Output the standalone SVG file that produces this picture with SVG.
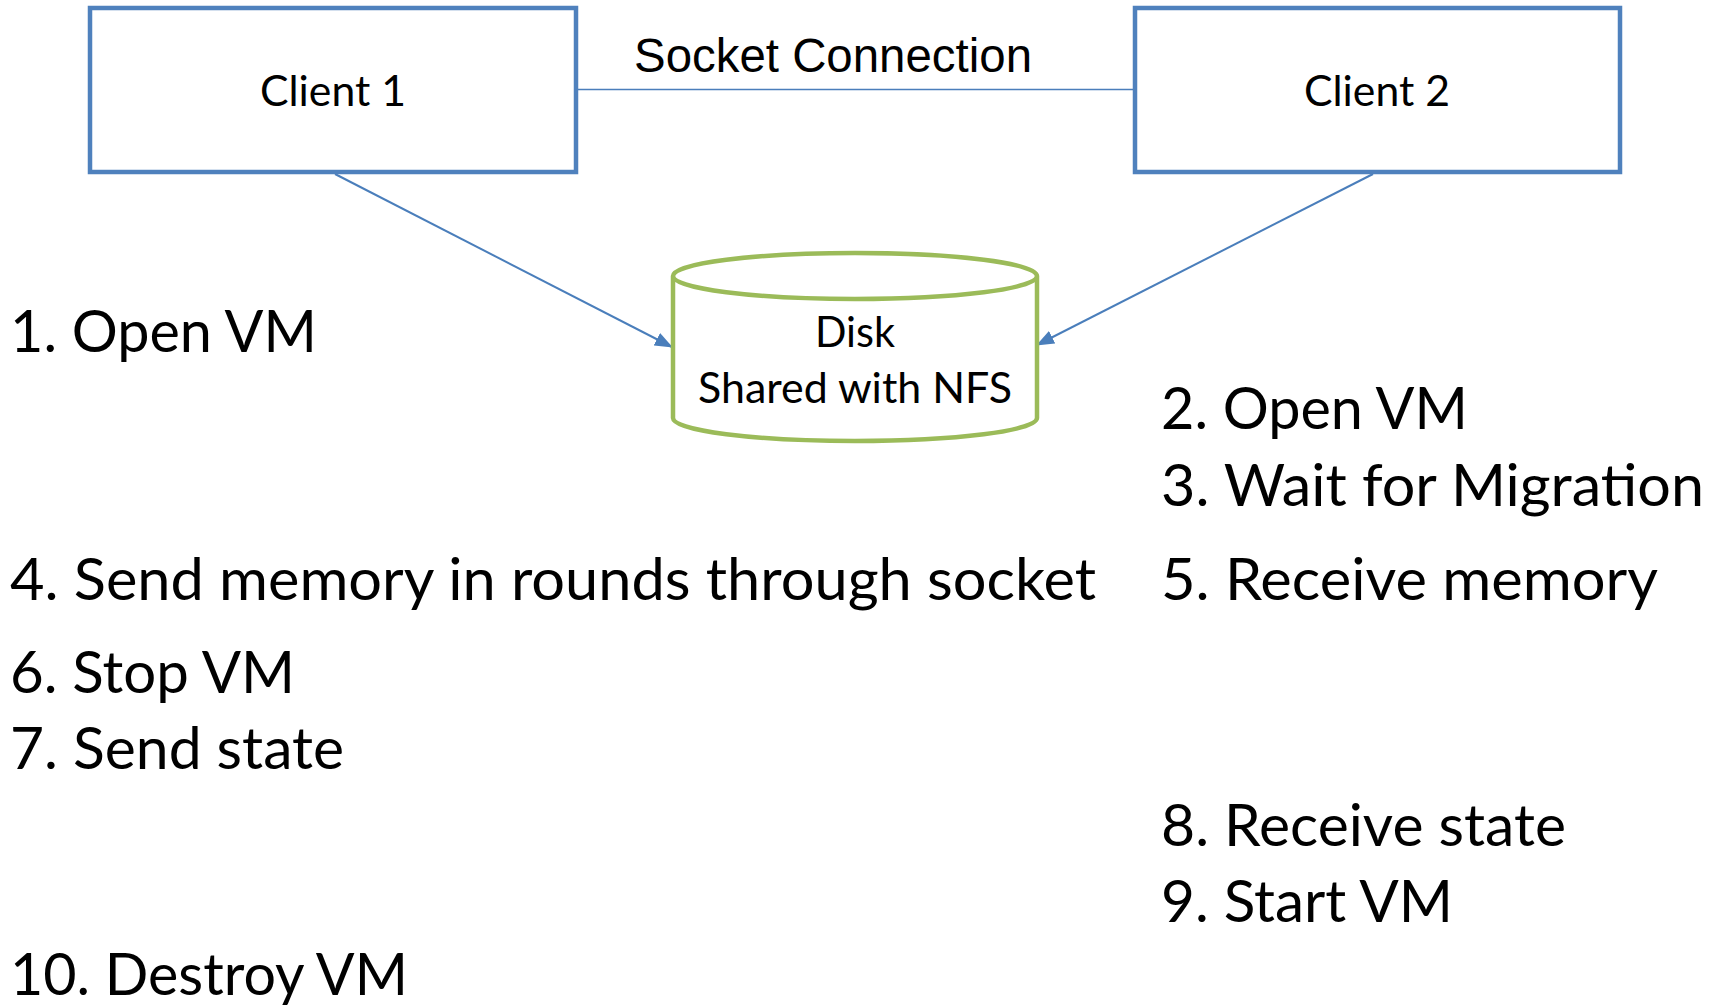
<svg xmlns="http://www.w3.org/2000/svg" width="1719" height="1008" viewBox="0 0 1719 1008">
<style>
.box{fill:#fff;stroke:#4F81BD;stroke-width:4.5}
.cyl{fill:#fff;stroke:#9BBB59;stroke-width:4.5}
.conn{stroke:#4A7EBB;stroke-width:2;fill:none}
.lbl{font-family:Lato,"Open Sans","Noto Sans",sans-serif;font-size:42.75px;fill:#000}
.step{font-family:Lato,"Open Sans","Noto Sans",sans-serif;font-size:57.6px;fill:#000}
.sock{font-family:"Liberation Sans",Arial,sans-serif;font-size:47.5px;fill:#000}
</style>
<defs>
<marker id="ah" viewBox="0 0 18 14" refX="17" refY="7" markerWidth="18" markerHeight="14" markerUnits="userSpaceOnUse" orient="auto">
<path d="M0,0 L18,7 L0,14 z" fill="#4A7EBB"/>
</marker>
</defs>
<g id="connectors">
<line class="conn" x1="576" y1="89.5" x2="1135" y2="89.5" style="stroke-width:1.6"/>
<line class="conn" x1="335" y1="174" x2="672" y2="347" marker-end="url(#ah)"/>
<line class="conn" x1="1373" y1="174" x2="1037" y2="345" marker-end="url(#ah)"/>
<text class="sock" x="833" y="72" text-anchor="middle" textLength="398" lengthAdjust="spacingAndGlyphs">Socket Connection</text>
</g>
<g id="client1">
<rect class="box" x="90" y="8" width="486" height="164"/>
<text class="lbl" x="333" y="106" text-anchor="middle" textLength="146" lengthAdjust="spacingAndGlyphs">Client 1</text>
</g>
<g id="client2">
<rect class="box" x="1135" y="8" width="485" height="164"/>
<text class="lbl" x="1377" y="106" text-anchor="middle" textLength="146" lengthAdjust="spacingAndGlyphs">Client 2</text>
</g>
<g id="disk">
<path class="cyl" d="M673,276 V418 A182,23 0 0 0 1037,418 V276 A182,23 0 0 0 673,276 A182,23 0 0 0 1037,276"/>
<text class="lbl" x="855" y="347" text-anchor="middle" textLength="80" lengthAdjust="spacingAndGlyphs">Disk</text>
<text class="lbl" x="855" y="403" text-anchor="middle" textLength="314" lengthAdjust="spacingAndGlyphs">Shared with NFS</text>
</g>
<g id="steps">
<text class="step" x="10" y="352" textLength="307" lengthAdjust="spacingAndGlyphs">1. Open VM</text>
<text class="step" x="1161" y="429" textLength="307" lengthAdjust="spacingAndGlyphs">2. Open VM</text>
<text class="step" x="1161" y="506" textLength="543" lengthAdjust="spacingAndGlyphs">3. Wait for Migration</text>
<text class="step" x="10" y="600" textLength="1086" lengthAdjust="spacingAndGlyphs">4. Send memory in rounds through socket</text>
<text class="step" x="1161" y="600" textLength="497" lengthAdjust="spacingAndGlyphs">5. Receive memory</text>
<text class="step" x="10" y="693" textLength="285" lengthAdjust="spacingAndGlyphs">6. Stop VM</text>
<text class="step" x="10" y="769" textLength="334" lengthAdjust="spacingAndGlyphs">7. Send state</text>
<text class="step" x="1161" y="846" textLength="405" lengthAdjust="spacingAndGlyphs">8. Receive state</text>
<text class="step" x="1161" y="922" textLength="292" lengthAdjust="spacingAndGlyphs">9. Start VM</text>
<text class="step" x="10" y="995" textLength="398" lengthAdjust="spacingAndGlyphs">10. Destroy VM</text>
</g>
</svg>
